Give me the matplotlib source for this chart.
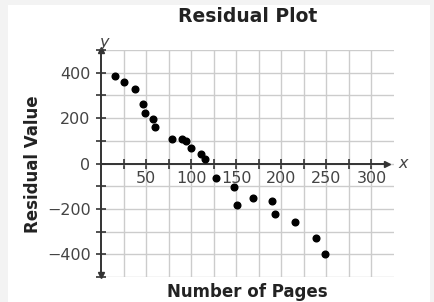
import numpy as np
import matplotlib
matplotlib.use("Agg")
import matplotlib.pyplot as plt
from matplotlib.patches import Rectangle

# pages vs residual
pages = [15, 25, 38, 47, 49, 58, 60, 79, 90, 94, 100, 111, 115,
         128, 148, 151, 169, 190, 193, 215, 238, 248]
residuals = [385, 361, 326, 264, 221, 194, 160, 107, 110, 99, 67, 43, 21,
             -65, -104, -182, -153, -163, -222, -259, -330, -399]

x_ticks = [50, 100, 150, 200, 250, 300]
y_ticks = [-400, -200, 0, 200, 400]

fig = plt.figure(figsize=(4.35, 3.02), dpi=100, facecolor='#f3f3f3')
fig.patches.append(Rectangle((8/435, 0), 422/435, 297/302, transform=fig.transFigure,
                             facecolor='white', edgecolor='none', zorder=-5))

ax = fig.add_axes([101/435, 25/302, 293/435, 227/302])
ax.set_zorder(2)
ax.set_facecolor('white')
ax.set_xlim(0, 325)
ax.set_ylim(-500, 500)

# grid
ax.set_xticks(np.arange(25, 325, 25), minor=True)
ax.set_yticks(np.arange(-500, 501, 100), minor=True)
ax.grid(which='both', color='#cccccc', lw=1.0, zorder=0)
ax.set_xticks(x_ticks)
ax.set_yticks(y_ticks)
ax.set_yticklabels(['\u2212400', '\u2212200', '0', '200', '400'])

for s in ['top', 'right']:
    ax.spines[s].set_visible(False)
ax.spines['left'].set_position(('data', 0))
ax.spines['bottom'].set_position(('data', 0))
ax.spines['left'].set_bounds(-490, 500)
ax.spines['bottom'].set_bounds(0, 317)
for s in ['left', 'bottom']:
    ax.spines[s].set_color('#333333')
    ax.spines[s].set_linewidth(1.4)
    ax.spines[s].set_zorder(2)

ax.tick_params(which='both', direction='inout', length=7, width=1.2, color='#333333',
               labelsize=11.5, labelcolor='#444444')
ax.tick_params(axis='x', pad=2)
ax.tick_params(axis='y', pad=4)

# arrow heads
ax.plot(317, 0, marker='>', ms=5, color='#333333', clip_on=False, zorder=3)
ax.plot(0, 500, marker='^', ms=5, color='#333333', clip_on=False, zorder=3)
ax.plot(0, -490, marker='v', ms=5, color='#333333', clip_on=False, zorder=3)
ax.text(335, 0, 'x', style='italic', fontsize=11.5, color='#444444', va='center', ha='center')
ax.text(3, 535, 'y', style='italic', fontsize=11.5, color='#444444', va='center', ha='center')

ax.plot(pages, residuals, 'o', color='black', ms=4.8, zorder=4, clip_on=False)

fig.text(248/435, 1 - 17/302, 'Residual Plot', fontsize=13.5, fontweight='bold',
         ha='center', va='center', color='#222222')
fig.text(247/435, 1 - 292/302, 'Number of Pages', fontsize=12, fontweight='bold',
         ha='center', va='center', color='#222222')
fig.text(33/435, 1 - 164/302, 'Residual Value', fontsize=12, fontweight='bold',
         ha='center', va='center', rotation=90, color='#222222')

fig.savefig('out.png', dpi=100, facecolor=fig.get_facecolor())
